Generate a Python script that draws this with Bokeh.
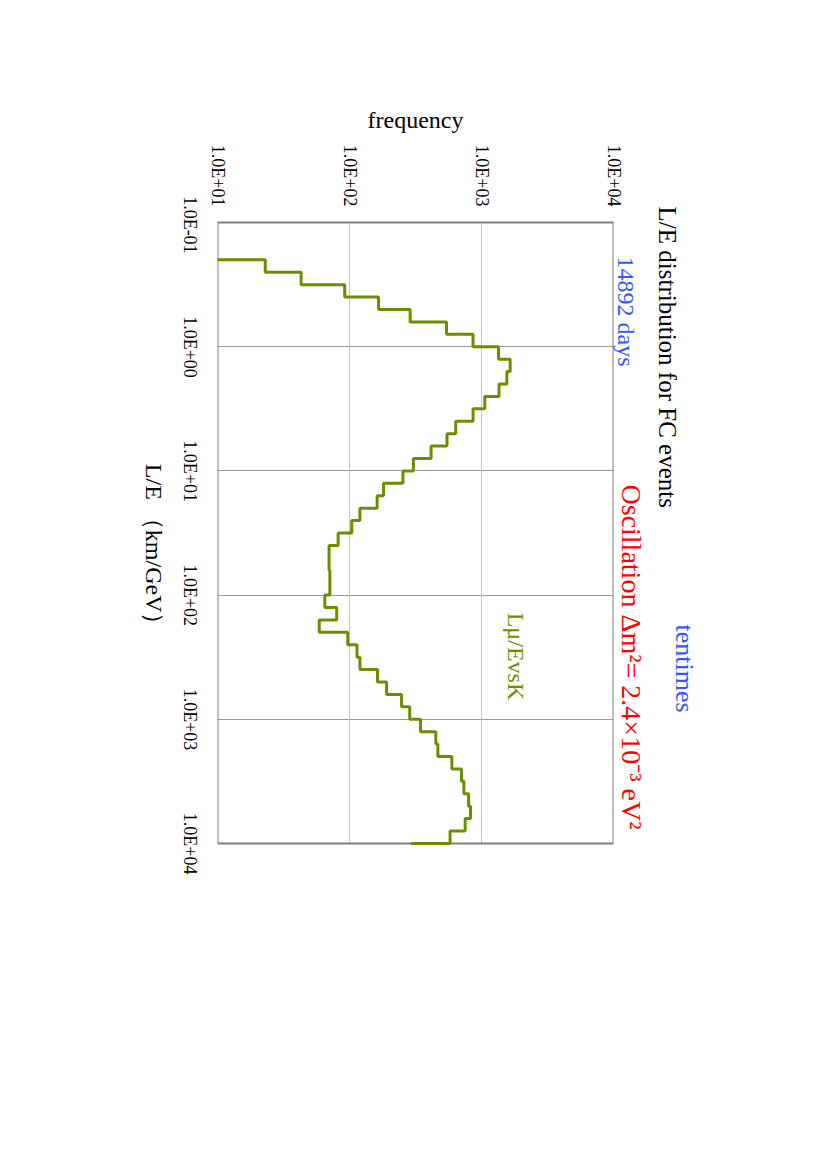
import math
from bokeh.plotting import figure
from bokeh.models import (Range1d, FixedTicker, CustomJSTickFormatter, Label,
                          LogAxis)
from bokeh.embed import file_html
from bokeh.resources import INLINE

# ---- data -------------------------------------------------------------
# histogram bins in log10(L/E) [km/GeV]; bin i spans edges[i]..edges[i+1]
le_log_edges = [round(-0.8 + 0.1 * i, 1) for i in range(50)]
frequency = [8, 23, 43, 92, 166, 288, 543, 863, 1346, 1648,
             1556, 1358, 1059, 863, 638, 548, 415, 305, 254, 181,
             162, 120, 104, 82, 70, 70, 71, 71, 65, 80,
             59, 97, 114, 120, 163, 191, 248, 286, 345, 451,
             467, 596, 705, 735, 798, 826, 752, 578, 293]
freq_ticks = [10, 100, 1000, 10000]
le_ticks = [0.1, 1, 10, 100, 1000, 10000]

title_text = "L/E distribution for FC events"
days_text = "14892 days"
osc_text = "Oscillation \u0394m\u00b2= 2.4\u00d710\u207b\u00b3 eV\u00b2"
times_text = "tentimes"
series_text = "L\u03bc/EvsK"
x_title = "frequency"
y_title = "L/E \uff08km/GeV\uff09"

FONT = "Liberation Serif"
GRID = "#9a9a9a"
BOX = "#808080"
LINE = "#6b8e00"

# ---- figure -----------------------------------------------------------
# the frame reaches a quarter decade beyond the chart box at top and bottom
# so that the rotated tick labels can be centred on their ticks
SH = 10 ** 0.25
PX_DEC = 621 / 5.0
FW = 396
FH = round(621 * 5.5 / 5.0)
BOX_TOP = 222.0              # page y of L/E = 0.1
FRAME_TOP = round(BOX_TOP - PX_DEC * 0.25)

p = figure(frame_width=FW, frame_height=FH,
           x_axis_type="log", y_axis_type="log",
           x_range=Range1d(freq_ticks[0], freq_ticks[-1]),
           y_range=Range1d(le_ticks[-1] * SH * 1.001, le_ticks[0] / SH / 1.001),
           x_axis_location="above",
           min_border_left=217, min_border_top=FRAME_TOP,
           min_border_right=190, min_border_bottom=20,
           output_backend="svg", toolbar_location=None)

p.background_fill_color = "white"
p.border_fill_color = "white"
p.outline_line_color = None
p.xgrid.visible = False

fmt = CustomJSTickFormatter(args=dict(shift=0.0), code="""
const e = Math.round(Math.log10(tick) - shift);
const s = e < 0 ? "-" : "+";
return "1.0E" + s + String(Math.abs(e)).padStart(2, "0");
""")
fmt_shift = CustomJSTickFormatter(args=dict(shift=0.25), code=fmt.code)

xa = p.xaxis[0]
ya = p.yaxis[0]
xa.ticker = FixedTicker(ticks=freq_ticks)
xa.formatter = fmt
ya.ticker = FixedTicker(ticks=[t * SH for t in le_ticks])
ya.formatter = fmt_shift
for ax in (xa, ya):
    ax.major_label_orientation = -math.pi / 2
    ax.major_label_text_font = FONT
    ax.major_label_text_font_size = "18px"
    ax.major_label_text_color = "black"
    ax.axis_line_color = None
    ax.minor_tick_line_color = None
    ax.major_tick_line_color = None
    ax.major_tick_out = 0
    ax.major_tick_in = 0

xa.major_label_standoff = -(222 - FRAME_TOP) + 16
ya.major_label_standoff = 28

xa.axis_label = x_title
xa.axis_label_text_font = FONT
xa.axis_label_text_font_style = "normal"
xa.axis_label_text_font_size = "24px"
xa.axis_label_text_color = "black"
xa.axis_label_standoff = 9

# horizontal grid lines (span the frame width = chart box width)
p.ygrid.ticker = FixedTicker(ticks=le_ticks)
p.ygrid.grid_line_color = GRID

# vertical grid lines and chart box, limited to the L/E range
p.segment(x0=freq_ticks[1:-1], y0=[le_ticks[0]] * 2,
          x1=freq_ticks[1:-1], y1=[le_ticks[-1]] * 2,
          line_color="#c4c4c4", line_width=1)
p.quad(left=[freq_ticks[0]], right=[freq_ticks[-1]],
       top=[le_ticks[0]], bottom=[le_ticks[-1]],
       fill_color=None, line_color=BOX, line_width=2)

# ---- histogram step line (L/E vertical, frequency horizontal) ----------
lo_lim, hi_lim = math.log10(le_ticks[0]), math.log10(le_ticks[-1])
xs, ys = [], []
for i, f in enumerate(frequency):
    lo = min(max(le_log_edges[i], lo_lim), hi_lim)
    hi = min(max(le_log_edges[i + 1], lo_lim), hi_lim)
    xs += [f, f]
    ys += [10 ** lo, 10 ** hi]
p.line(xs, ys, line_color=LINE, line_width=3)

# series label inside the frame
p.add_layout(Label(x=10 ** (1 + (515 - 217) / 132.0),
                   y=10 ** (-1 + (656 - BOX_TOP) / PX_DEC),
                   text=series_text, angle=-math.pi / 2,
                   text_align="center", text_baseline="middle",
                   text_font=FONT, text_font_size="24px",
                   text_color=LINE))


# ---- rotated texts outside the frame: single-label side axes ----------
def yd(py):
    return 10 ** (-1 + (py - BOX_TOP) / PX_DEC)


def side_text(txt, py, color, size, standoff, side):
    ax = LogAxis(ticker=FixedTicker(ticks=[yd(py)]),
                 formatter=CustomJSTickFormatter(args=dict(txt=txt),
                                                 code="return txt;"),
                 major_label_orientation=-math.pi / 2,
                 major_label_text_font=FONT,
                 major_label_text_font_size=size,
                 major_label_text_color=color,
                 major_label_standoff=standoff,
                 axis_line_color=None,
                 major_tick_in=0, major_tick_out=0,
                 minor_tick_in=0, minor_tick_out=0,
                 minor_tick_line_color=None, major_tick_line_color=None)
    p.add_layout(ax, side)


# left side: label ends at its tick; right side: label starts at its tick
side_text(y_title, 636, "black", "24px", 13, "left")
side_text(days_text, 256, "#3355ff", "24px", 12, "right")
side_text(osc_text, 484, "#ff0000", "28px", -23, "right")
side_text(title_text, 206, "black", "25px", 2, "right")
side_text(times_text, 624, "#3355ff", "26px", -13, "right")

open("out.html", "w").write(file_html(p, INLINE))
